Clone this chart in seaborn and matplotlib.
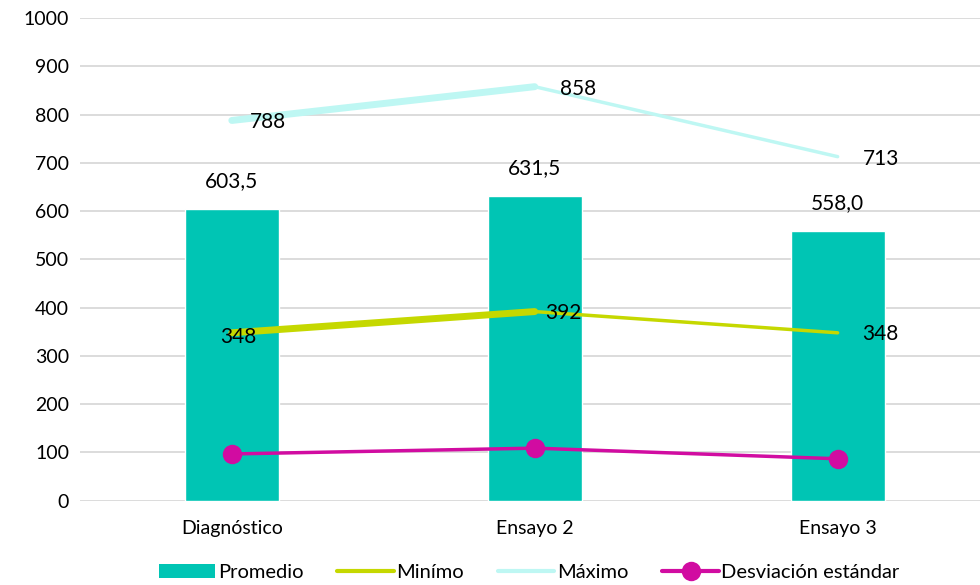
import numpy as np
import pandas as pd
import matplotlib
matplotlib.use("Agg")
import matplotlib.pyplot as plt
import seaborn as sns
from matplotlib.lines import Line2D
from matplotlib.patches import Patch

categories = ["Diagnóstico", "Ensayo 2", "Ensayo 3"]
promedio = [603.5, 631.5, 558.0]
minimo = [348, 392, 348]
maximo = [788, 858, 713]
desviacion = [97, 109, 87]
yticks = [0, 100, 200, 300, 400, 500, 600, 700, 800, 900, 1000]

c_bar = "#00C5B4"
c_min = "#C5D800"
c_max = "#BEF7F3"
c_dev = "#D10CA1"

sns.set_theme(style="white")
plt.rcParams["font.family"] = ["Lato", "DejaVu Sans"]
plt.rcParams["text.color"] = "black"
plt.rcParams["xtick.color"] = "black"
plt.rcParams["ytick.color"] = "black"

fig = plt.figure(figsize=(9.8, 5.85), dpi=100)
ax = fig.add_axes([0.082, 0.144, 0.918, 0.825])

df = pd.DataFrame({"cat": categories, "promedio": promedio})
sns.barplot(data=df, x="cat", y="promedio", color=c_bar, width=0.31,
            saturation=1, ax=ax, zorder=2)

idx = np.arange(len(categories))
for vals, col in [(maximo, c_max), (minimo, c_min)]:
    sns.lineplot(x=idx[:2], y=vals[:2], color=col, lw=5, ax=ax, zorder=3,
                 solid_capstyle="round")
    sns.lineplot(x=idx[1:], y=vals[1:], color=col, lw=2.5, ax=ax, zorder=3)
sns.lineplot(x=idx, y=desviacion, color=c_dev, lw=2.5, marker="o",
             markersize=14, markeredgewidth=0, ax=ax, zorder=4)

ax.set_ylim(0, 1000)
ax.set_xlim(-0.5, 2.47)
ax.set_yticks(yticks)
ax.set_yticklabels([str(t) for t in yticks], fontsize=14)
ax.set_xticks(idx)
ax.set_xticklabels(categories, fontsize=14)
ax.tick_params(axis="y", length=0, pad=8)
ax.tick_params(axis="x", length=0, pad=14)
ax.set_xlabel("")
ax.set_ylabel("")
ax.grid(axis="y", color="#D9D9D9", lw=1.3, zorder=0)
ax.set_axisbelow(True)
for s in ax.spines.values():
    s.set_visible(False)

# bar labels
for i, v in enumerate(promedio):
    ax.annotate(f"{v:.1f}".replace(".", ","), (idx[i], v), xytext=(0, 28),
                textcoords="offset pixels", ha="center", va="center", fontsize=15)
max_off = [(36, -2), (43, -2), (43, -2)]
for i, v in enumerate(maximo):
    ax.annotate(str(v), (idx[i], v), xytext=max_off[i],
                textcoords="offset pixels", ha="center", va="center", fontsize=15)
min_off = [(6, -4), (29, -1), (43, -1)]
for i, v in enumerate(minimo):
    ax.annotate(str(v), (idx[i], v), xytext=min_off[i],
                textcoords="offset pixels", ha="center", va="center", fontsize=15)

handles = [
    Patch(facecolor=c_bar, edgecolor="none"),
    Line2D([], [], color=c_min, lw=3),
    Line2D([], [], color=c_max, lw=3),
    Line2D([], [], color=c_dev, lw=3, marker="o", markersize=14, markeredgewidth=0),
]
labels = ["Promedio", "Minímo", "Máximo", "Desviación estándar"]
fig.legend(handles, labels, loc="center", bbox_to_anchor=(0.540, 0.022), ncol=4,
           frameon=False, fontsize=14.5, handlelength=2.8, handletextpad=0.12,
           columnspacing=1.7, borderaxespad=0)

fig.savefig("out.png", dpi=100)
